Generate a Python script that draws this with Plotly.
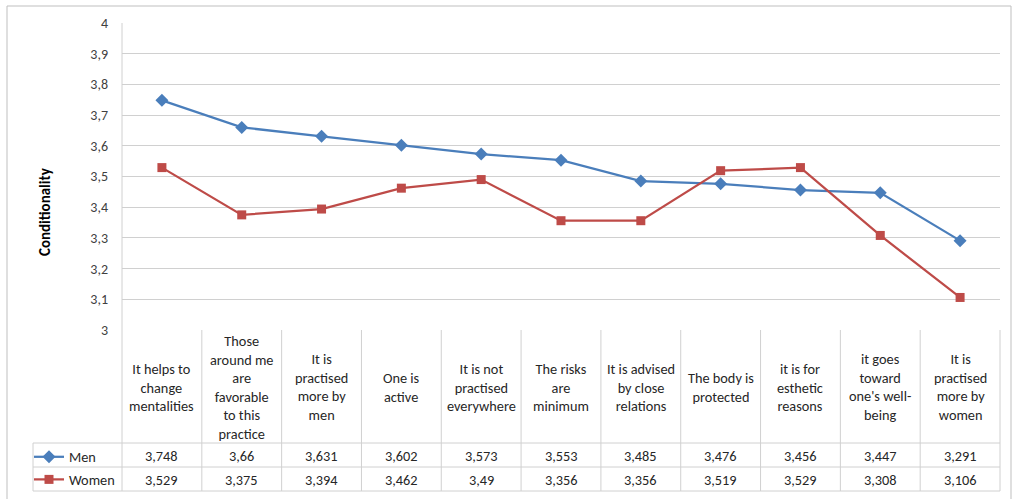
import plotly.graph_objects as go

categories = [
    "It helps to<br>change<br>mentalities",
    "Those<br>around me<br>are<br>favorable<br>to this<br>practice",
    "It is<br>practised<br>more by<br>men",
    "One is<br>active",
    "It is not<br>practised<br>everywhere",
    "The risks<br>are<br>minimum",
    "It is advised<br>by close<br>relations",
    "The body is<br>protected",
    "it is for<br>esthetic<br>reasons",
    "it goes<br>toward<br>one's well-<br>being",
    "It is<br>practised<br>more by<br>women",
]
men = [3.748, 3.66, 3.631, 3.602, 3.573, 3.553, 3.485, 3.476, 3.456, 3.447, 3.291]
women = [3.529, 3.375, 3.394, 3.462, 3.49, 3.356, 3.356, 3.519, 3.529, 3.308, 3.106]
y_title = "Conditionality"

W, H = 1014, 499
L, R, T, B = 122, 14, 23, 169
PW, PH = W - L - R, H - T - B

def py(pix):  # pixel y -> paper y
    return (H - B - pix) / PH

def px(pix):  # pixel x -> paper x
    return (pix - L) / PW

FONT = "Carlito, Calibri, Lato, sans-serif"
TXT = "#262626"
GRID = "#d0d0d0"
BLUE = "#4a7ebb"
RED = "#be4b48"
FS = 14.3

idx = list(range(len(categories)))
fig = go.Figure()
fig.add_trace(go.Scatter(x=idx, y=men, name="Men", mode="lines+markers",
                         line=dict(color=BLUE, width=2.25),
                         marker=dict(symbol="diamond", size=10, color=BLUE),
                         legendgroup="m"))
fig.add_trace(go.Scatter(x=idx, y=women, name="Women", mode="lines+markers",
                         line=dict(color=RED, width=2.25),
                         marker=dict(symbol="square", size=9, color=RED),
                         legendgroup="w"))

shapes = []
row_top, row_mid, row_bot = py(443), py(467), py(491)
for i in range(len(categories) - 1):
    shapes.append(dict(type="line", xref="x", yref="paper", x0=i + 0.5, x1=i + 0.5,
                       y0=0, y1=row_bot, line=dict(color=GRID, width=1)))
shapes.append(dict(type="line", xref="x domain", yref="paper", x0=0, x1=0,
                   y0=1, y1=row_bot, line=dict(color=GRID, width=1)))
shapes.append(dict(type="line", xref="x domain", yref="paper", x0=1, x1=1,
                   y0=0, y1=row_bot, line=dict(color=GRID, width=1)))
for yy in (row_top, row_mid, row_bot):
    shapes.append(dict(type="line", xref="paper", yref="paper", x0=px(33), x1=1,
                       y0=yy, y1=yy, line=dict(color=GRID, width=1)))
shapes.append(dict(type="line", xref="paper", yref="paper", x0=px(33), x1=px(33),
                   y0=row_top, y1=row_bot, line=dict(color=GRID, width=1)))
shapes.append(dict(type="rect", xref="paper", yref="paper", x0=px(7), x1=px(1011),
                   y0=py(505), y1=py(6), line=dict(color="#bfbfbf", width=1)))

annotations = []
for i, c in enumerate(categories):
    annotations.append(dict(x=i, y=py(387), xref="x", yref="paper", text=c,
                            xanchor="center", yanchor="middle",
                            showarrow=False, font=dict(family=FONT, size=FS, color=TXT),
                            align="center"))
    annotations.append(dict(x=i, y=py(455.5), xref="x", yref="paper",
                            xanchor="center", yanchor="middle",
                            text=str(men[i]).replace(".", ","), showarrow=False,
                            font=dict(family=FONT, size=FS, color=TXT)))
    annotations.append(dict(x=i, y=py(479.5), xref="x", yref="paper",
                            xanchor="center", yanchor="middle",
                            text=str(women[i]).replace(".", ","), showarrow=False,
                            font=dict(family=FONT, size=FS, color=TXT)))
annotations.append(dict(x=px(45), y=py(212), xref="paper", yref="paper",
                        text="<b>" + y_title + "</b>", textangle=-90, showarrow=False,
                        xanchor="center", yanchor="middle",
                        font=dict(family=FONT, size=15, color="#000000")))

fig.update_layout(
    width=W, height=H,
    margin=dict(l=L, r=R, t=T, b=B, autoexpand=False),
    plot_bgcolor="white", paper_bgcolor="white",
    separators=",.",
    showlegend=True,
    legend=dict(x=px(29), xanchor="left", y=py(441), yanchor="top",
                font=dict(family=FONT, size=FS, color=TXT),
                tracegroupgap=1, bgcolor="rgba(0,0,0,0)",
                itemwidth=30),
    xaxis=dict(range=[-0.5, len(categories) - 0.5], showgrid=False, zeroline=False,
               showticklabels=False, showline=False, fixedrange=True),
    yaxis=dict(range=[3, 4], dtick=0.1, tick0=3, showgrid=True, gridcolor=GRID,
               gridwidth=1, zeroline=False, showline=False, ticks="",
               ticklabelstandoff=13, automargin=False,
               tickfont=dict(family=FONT, size=14, color="#404040")),
    shapes=shapes,
    annotations=annotations,
)

fig.write_html("out.html", config={"displayModeBar": False},
               post_script="document.body.style.margin='0';")
